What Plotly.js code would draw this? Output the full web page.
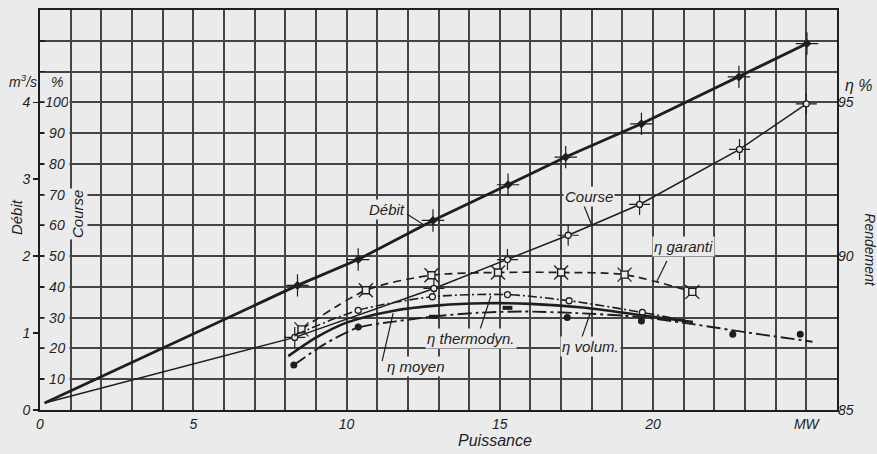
<!DOCTYPE html>
<html><head><meta charset="utf-8">
<script src="https://cdn.plot.ly/plotly-3.0.1.min.js"></script>
<style>html,body{margin:0;padding:0;background:#ebebeb}#chart{width:877px;height:454px}</style>
</head><body><div id="chart"></div>
<script>
// Puissance (MW) on x
const debitX = [0.15, 8.4, 10.38, 12.82, 15.27, 17.15, 19.62, 22.8, 25.02];
const debitM3s = [0.09, 1.62, 1.956, 2.464, 2.928, 3.288, 3.72, 4.33, 4.764];
const courseX = [0.15, 8.31, 12.85, 15.25, 17.23, 19.56, 22.82, 25.0];
const coursePct = [2.3, 23.6, 39.5, 48.9, 56.8, 66.8, 84.7, 99.5];
const garantiX = [8.53, 10.63, 12.77, 14.94, 17.0, 19.07, 21.28];
const garantiEta = [87.62, 88.89, 89.38, 89.47, 89.47, 89.40, 88.84];
const thermoX = [8.35, 10.38, 12.8, 15.25, 17.26, 19.65, 21.3];
const thermoEta = [87.45, 88.24, 88.68, 88.75, 88.55, 88.17, 87.86];
const moyenX = [8.1, 9.0, 10.0, 11.5, 13.0, 14.5, 16.0, 17.7, 19.6, 21.3];
const moyenEta = [86.75, 87.35, 87.84, 88.22, 88.40, 88.47, 88.45, 88.33, 88.08, 87.86];
const volumX = [8.28, 9.3, 10.38, 11.6, 12.85, 14.3, 15.8, 17.5, 19.6, 21.3, 23.0, 25.2];
const volumEta = [86.46, 87.15, 87.68, 87.88, 88.04, 88.16, 88.20, 88.15, 88.02, 87.79, 87.53, 87.22];
const volumPtsX = [8.28, 10.38, 17.2, 19.62, 22.6, 24.8];
const volumPtsEta = [86.46, 87.70, 88.01, 87.89, 87.46, 87.46];
const rectPtsX = [12.85, 15.25];
const rectPtsEta = [88.03, 88.32];
// axis ticks
const xTickVals = [0, 5, 10, 15, 20, 25];
const xTickText = ['0', '5', '10', '15', '20', 'MW'];
const pctGrid = [0,10,20,30,40,50,60,70,80,90,100,110,120,130];
const pctLabels = [10,20,30,40,50,60,70,80,90,100];
const m3sTicks = [0,1,2,3,4];
const etaTicks = [85,90,95];

const BG = '#ebebeb', INK = '#1e1e1e', GRID = '#454545';
const FONT = {family:'Liberation Sans, Arial, sans-serif', size:14, color:INK, style:'italic'};
const F15 = Object.assign({}, FONT, {size:15});
const F16 = Object.assign({}, FONT, {size:16});

const traces = [
  {x:courseX, y:coursePct, yaxis:'y', mode:'lines', line:{color:INK, width:1.5}},
  {x:courseX.slice(1), y:coursePct.slice(1), yaxis:'y', mode:'markers', marker:{symbol:'cross-thin-open', size:15, color:INK, line:{color:INK, width:1.2}}},
  {x:courseX.slice(1), y:coursePct.slice(1), yaxis:'y', mode:'markers', marker:{symbol:'circle', size:6, color:BG, line:{color:INK, width:1.3}}},
  {x:debitX, y:debitM3s, yaxis:'y2', mode:'lines', line:{color:INK, width:2.8}},
  {x:debitX.slice(1), y:debitM3s.slice(1), yaxis:'y2', mode:'markers', marker:{symbol:'cross-thin-open', size:16, color:INK, line:{color:INK, width:1.2}}},
  {x:debitX.slice(1), y:debitM3s.slice(1), yaxis:'y2', mode:'markers', marker:{symbol:'diamond', size:7, color:INK}},
  {x:garantiX, y:garantiEta, yaxis:'y3', mode:'lines', line:{color:INK, width:1.7, dash:'8px,5px', shape:'spline', smoothing:0.8}},
  {x:garantiX, y:garantiEta, yaxis:'y3', mode:'markers', marker:{symbol:'x-thin-open', size:14, color:INK, line:{color:INK, width:1.3}}},
  {x:garantiX, y:garantiEta, yaxis:'y3', mode:'markers', marker:{symbol:'square', size:7, color:BG, line:{color:INK, width:1.4}}},
  {x:thermoX, y:thermoEta, yaxis:'y3', mode:'lines', line:{color:INK, width:1.6, dash:'9px,3px,2px,3px', shape:'spline', smoothing:0.8}},
  {x:thermoX.slice(1,6), y:thermoEta.slice(1,6), yaxis:'y3', mode:'markers', marker:{symbol:'circle', size:6, color:BG, line:{color:INK, width:1.3}}},
  {x:moyenX, y:moyenEta, yaxis:'y3', mode:'lines', line:{color:INK, width:2.6, shape:'spline', smoothing:0.8}},
  {x:volumX, y:volumEta, yaxis:'y3', mode:'lines', line:{color:INK, width:1.9, dash:'14px,4px,3px,4px', shape:'spline', smoothing:0.8}},
  {x:volumPtsX, y:volumPtsEta, yaxis:'y3', mode:'markers', marker:{symbol:'circle', size:7, color:INK}},
  {x:rectPtsX, y:rectPtsEta, yaxis:'y3', mode:'markers', marker:{symbol:'line-ew-open', size:7, color:INK, line:{color:INK, width:4}}}
];

const pctAnn = pctLabels.map(v => ({xref:'x', yref:'y', x:0.55, y:v, text:String(v), showarrow:false,
  font:FONT, bgcolor:BG, width:22, xanchor:'center', yanchor:'middle'}));

function lab(x, y, text) {
  return {xref:'x', yref:'y', x:x, y:y, text:text, showarrow:false, font:F15, bgcolor:BG, xanchor:'center', yanchor:'middle'};
}
function plab(x, y, text, font, extra) {
  return Object.assign({xref:'paper', yref:'paper', x:x, y:y, text:text, showarrow:false, font:font, xanchor:'center', yanchor:'middle'}, extra || {});
}
const labels = [
  lab(11.32, 65.3, 'Débit'),
  lab(17.91, 69.55, 'Course'),
  lab(20.98, 53.3, 'η garanti'),
  lab(14.06, 23.1, 'η thermodyn.'),
  lab(12.27, 14.3, 'η moyen'),
  lab(17.97, 20.8, 'η volum.'),
  plab(-0.0213, 0.8225, 'm<sup>3</sup>/s', FONT),
  plab(0.0213, 0.82, '%', FONT),
  plab(-0.030, 0.4825, 'Débit', F15, {textangle:-90}),
  plab(0.0464, 0.49, 'Course', F15, {textangle:-90, bgcolor:BG}),
  plab(1.027, 0.81, 'η %', F16),
  plab(1.041, 0.40, 'Rendement', FONT, {textangle:90}),
  plab(0.5709, -0.0775, 'Puissance', F16)
];

function ptr(x0, y0, x1, y1) {
  return {type:'line', xref:'x', yref:'y', x0:x0, y0:y0, x1:x1, y1:y1, line:{color:INK, width:1.2}};
}
const shapes = [
  ptr(11.97, 63.7, 12.53, 60.1),
  ptr(17.75, 66.3, 18.01, 59.8),
  ptr(20.45, 48.4, 20.13, 41.9),
  ptr(14.35, 26.0, 14.71, 37.05),
  ptr(11.16, 15.9, 11.52, 31.5),
  ptr(17.68, 23.7, 17.94, 31.2)
];

const layout = {
  width:877, height:454,
  margin:{l:40, r:40, t:10, b:44},
  paper_bgcolor:BG, plot_bgcolor:BG,
  showlegend:false,
  font:FONT,
  xaxis:{range:[0,26], tickmode:'array', tickvals:xTickVals, ticktext:xTickText, showgrid:true, gridcolor:GRID, gridwidth:2,
    minor:{tick0:0, dtick:1, showgrid:true, gridcolor:GRID, gridwidth:2, ticks:''},
    zeroline:false, showline:true, mirror:true, linecolor:INK, linewidth:2, ticks:'', tickfont:FONT},
  yaxis:{range:[0,130], tickmode:'array', tickvals:pctGrid, showticklabels:false, showgrid:true, gridcolor:GRID, gridwidth:2,
    zeroline:false, showline:true, mirror:true, linecolor:INK, linewidth:2, ticks:'inside', ticklen:5, tickcolor:INK, tickwidth:1.5},
  yaxis2:{range:[0,5.2], overlaying:'y', side:'left', anchor:'x', tickmode:'array', tickvals:m3sTicks, showgrid:false, zeroline:false,
    showline:false, ticks:'outside', ticklen:6, tickcolor:INK, tickwidth:1.5, tickfont:FONT},
  yaxis3:{range:[85,98], overlaying:'y', side:'right', anchor:'x', tickmode:'array', tickvals:etaTicks, showgrid:false, zeroline:false,
    showline:false, ticks:'', tickfont:FONT},
  annotations: pctAnn.concat(labels),
  shapes: shapes
};

Plotly.newPlot('chart', traces, layout, {displayModeBar:false, staticPlot:true});
</script></body></html>
